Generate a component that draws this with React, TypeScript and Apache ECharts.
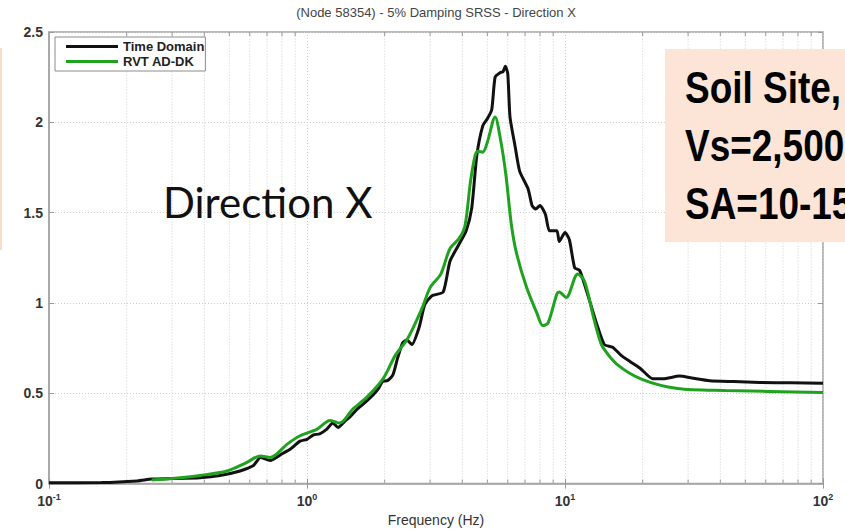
import React, { useEffect, useRef } from "react";
import * as echarts from "echarts";

// Time-domain response spectrum (frequency in Hz, spectral acceleration in g)
const timeFreq = [
  0.1, 0.16, 0.22, 0.25, 0.3, 0.385, 0.46, 0.55, 0.62, 0.66, 0.72, 0.8, 0.86, 0.94, 1.0,
  1.06, 1.12, 1.19, 1.26, 1.32, 1.4, 1.47, 1.56, 1.65, 1.8, 1.9, 1.96, 2.05, 2.15, 2.25,
  2.35, 2.44, 2.55, 2.72, 2.86, 3.05, 3.37, 3.58, 3.85, 4.14, 4.35, 4.55, 4.8, 5.0, 5.2,
  5.36, 5.6, 5.75, 5.87, 6.0, 6.12, 6.4, 6.67, 7.2, 7.45, 7.7, 8.0, 8.4, 8.7, 9.3, 9.5,
  10.0, 10.4, 10.9, 11.4, 12.1, 13.3, 14.2, 15.3, 16.5, 17.9, 19.5, 21.9, 24, 27.8, 31,
  36.4, 45, 57, 75, 100,
];
const timeSa = [
  0.005, 0.006, 0.015, 0.025, 0.028, 0.033, 0.045, 0.07, 0.1, 0.145, 0.128, 0.165, 0.19,
  0.235, 0.245, 0.27, 0.275, 0.3, 0.335, 0.31, 0.345, 0.37, 0.41, 0.44, 0.49, 0.53, 0.565,
  0.57, 0.6, 0.7, 0.78, 0.795, 0.77, 0.865, 0.99, 1.04, 1.06, 1.23, 1.315, 1.4, 1.525,
  1.815, 1.98, 2.02, 2.07, 2.25, 2.275, 2.28, 2.31, 2.27, 2.03, 1.87, 1.73, 1.63, 1.54,
  1.52, 1.54, 1.49, 1.4, 1.4, 1.34, 1.39, 1.35, 1.195, 1.18, 1.07, 0.88, 0.77, 0.755, 0.71,
  0.675, 0.64, 0.58, 0.58, 0.595, 0.585, 0.57, 0.565, 0.56, 0.558, 0.555,
];

// RVT AD-DK response spectrum
const rvtFreq = [
  0.25, 0.3, 0.385, 0.49, 0.58, 0.66, 0.72, 0.84, 0.94, 1.09, 1.23, 1.34, 1.5, 1.71, 1.97,
  2.2, 2.45, 2.8, 3.0, 3.3, 3.58, 3.9, 4.1, 4.3, 4.48, 4.6, 4.8, 5.0, 5.36, 5.6, 5.9, 6.2,
  6.5, 7.1, 7.8, 8.2, 8.6, 9.3, 9.5, 10.1, 11.2, 11.9, 12.9, 13.6, 14.0, 15.9, 20, 27.3, 42,
  100,
];
const rvtSa = [
  0.02, 0.028, 0.045, 0.07, 0.115, 0.153, 0.145, 0.22, 0.265, 0.3, 0.35, 0.335, 0.41, 0.48,
  0.58, 0.71, 0.8, 0.975, 1.085, 1.16, 1.3, 1.36, 1.43, 1.67, 1.815, 1.84, 1.835, 1.89,
  2.03, 1.92, 1.71, 1.43, 1.27, 1.085, 0.94, 0.875, 0.89, 1.05, 1.06, 1.03, 1.16, 1.12,
  0.92, 0.8, 0.755, 0.66, 0.575, 0.526, 0.515, 0.505,
];

// Log-decade minor grid positions
const minorFreqs = [
  0.2, 0.3, 0.4, 0.5, 0.6, 0.7, 0.8, 0.9,
  2, 3, 4, 5, 6, 7, 8, 9,
  20, 30, 40, 50, 60, 70, 80, 90,
];
const yTicks = [0, 0.5, 1, 1.5, 2, 2.5];
const freqRange = [0.1, 100];

const seriesNames = ["Time Domain", "RVT AD-DK"];
const titleText = "(Node 58354) - 5% Damping SRSS - Direction X";
const xAxisTitle = "Frequency (Hz)";
const directionLabel = "Direction X";
const siteLines = ["Soil Site,", "Vs=2,500", "SA=10-15"];

const AXIS_GRAY = "#a3a3a3";
const GRID_GRAY = "#cdcdcd";
const LABEL_FONT = "Liberation Sans, Arial, sans-serif";

const pairs = (xs: number[], ys: number[]) => xs.map((x, i) => [x, ys[i]]);

export default function App() {
  const ref = useRef<HTMLDivElement>(null);

  useEffect(() => {
    if (!ref.current) return;
    const chart = echarts.init(ref.current, undefined, { renderer: "svg" });
    const yMin = yTicks[0];
    const yMax = yTicks[yTicks.length - 1];

    const option: any = {
      animation: false,
      backgroundColor: "#ffffff",
      grid: {
        left: 49,
        right: 22,
        top: 32,
        bottom: 44,
        show: true,
        borderColor: AXIS_GRAY,
        borderWidth: 1.5,
        backgroundColor: "#ffffff",
      },
      legend: {
        data: seriesNames,
        orient: "vertical",
        left: 55,
        top: 37,
        backgroundColor: "#ffffff",
        borderColor: "#8c8c8c",
        borderWidth: 1,
        borderRadius: 0,
        padding: [3, 1, 3, 11],
        itemWidth: 52,
        itemHeight: 3,
        itemGap: 2,
        icon: "rect",
        textStyle: {
          fontFamily: LABEL_FONT,
          fontWeight: "bold",
          fontSize: 13,
          color: "#222",
        },
      },
      xAxis: [
        {
          type: "log",
          logBase: 10,
          min: freqRange[0],
          max: freqRange[1],
          name: xAxisTitle,
          nameLocation: "middle",
          nameGap: 27,
          nameTextStyle: { fontFamily: LABEL_FONT, fontSize: 14, color: "#333" },
          axisLine: { show: true, lineStyle: { color: AXIS_GRAY, width: 1.5 } },
          axisTick: { show: true, inside: true, length: 5, lineStyle: { color: "#999" } },
          splitLine: { show: true, lineStyle: { color: GRID_GRAY, type: [1, 2] } },
          axisLabel: {
            margin: 9,
            formatter: (v: number) => `{b|10}{e|${Math.round(Math.log10(v))}}`,
            rich: {
              b: { fontFamily: LABEL_FONT, fontSize: 14, fontWeight: "bold", color: "#333" },
              e: {
                fontFamily: LABEL_FONT,
                fontSize: 9,
                fontWeight: "bold",
                color: "#333",
                padding: [0, 0, 8, 0],
              },
            },
          },
        },
        {
          type: "log",
          logBase: 10,
          position: "top",
          min: freqRange[0],
          max: freqRange[1],
          axisLine: { show: false },
          axisTick: { show: true, inside: true, length: 5, lineStyle: { color: "#999" } },
          axisLabel: { show: false },
          splitLine: { show: false },
        },
      ],
      yAxis: [
        {
          type: "value",
          min: yMin,
          max: yMax,
          interval: 0.5,
          axisLine: { show: true, lineStyle: { color: AXIS_GRAY, width: 1.5 } },
          axisTick: { show: true, inside: true, length: 5, lineStyle: { color: "#999" } },
          splitLine: { show: true, lineStyle: { color: GRID_GRAY, type: [1, 2] } },
          axisLabel: {
            margin: 6,
            fontFamily: LABEL_FONT,
            fontSize: 14,
            fontWeight: "bold",
            color: "#333",
            formatter: (v: number) => String(v),
          },
        },
        {
          type: "value",
          position: "right",
          min: yMin,
          max: yMax,
          interval: 0.5,
          axisLine: { show: false },
          axisTick: { show: true, inside: true, length: 5, lineStyle: { color: "#999" } },
          axisLabel: { show: false },
          splitLine: { show: false },
        },
      ],
      series: [
        {
          // minor log grid with inward ticks on bottom and top edges
          type: "custom",
          name: "minor-grid",
          silent: true,
          z: 1,
          xAxisIndex: 0,
          yAxisIndex: 0,
          data: minorFreqs.map((f) => [f, yMin]),
          encode: { x: 0, y: 1 },
          renderItem: (_params: any, api: any) => {
            const f = api.value(0);
            const b = api.coord([f, yMin]);
            const t = api.coord([f, yMax]);
            return {
              type: "group",
              children: [
                {
                  type: "line",
                  shape: { x1: b[0], y1: b[1], x2: t[0], y2: t[1] },
                  style: { stroke: GRID_GRAY, lineWidth: 1, lineDash: [1, 2] },
                },
                {
                  type: "line",
                  shape: { x1: b[0], y1: b[1], x2: b[0], y2: b[1] - 4 },
                  style: { stroke: "#999", lineWidth: 1 },
                },
                {
                  type: "line",
                  shape: { x1: t[0], y1: t[1], x2: t[0], y2: t[1] + 4 },
                  style: { stroke: "#999", lineWidth: 1 },
                },
              ],
            };
          },
        },
        {
          type: "line",
          name: seriesNames[0],
          data: pairs(timeFreq, timeSa),
          showSymbol: false,
          symbol: "none",
          smooth: 0.2,
          z: 3,
          lineStyle: { color: "#111111", width: 3 },
          itemStyle: { color: "#111111" },
        },
        {
          type: "line",
          name: seriesNames[1],
          data: pairs(rvtFreq, rvtSa),
          showSymbol: false,
          symbol: "none",
          smooth: 0.3,
          z: 4,
          lineStyle: { color: "#1fa31f", width: 3 },
          itemStyle: { color: "#1fa31f" },
        },
      ],
      graphic: [
        {
          type: "text",
          x: 436,
          y: 12,
          style: {
            text: titleText,
            fontFamily: LABEL_FONT,
            fontSize: 13,
            fill: "#444",
            align: "center",
            verticalAlign: "middle",
          },
        },
        {
          type: "line",
          shape: { x1: 1, y1: 48, x2: 1, y2: 250 },
          style: { stroke: "#f5d2ba", lineWidth: 1.5 },
        },
        {
          type: "text",
          x: 163,
          y: 202,
          z: 10,
          style: {
            text: directionLabel,
            fontFamily: "Lato, Open Sans, sans-serif",
            fontSize: 42,
            fill: "#111",
            align: "left",
            verticalAlign: "middle",
          },
        },
        {
          type: "rect",
          z: 10,
          shape: { x: 665, y: 49, width: 200, height: 193 },
          style: { fill: "#fce5d6" },
        },
        {
          type: "group",
          x: 685,
          y: 0,
          scaleX: 0.84,
          z: 11,
          children: siteLines.map((line, i) => ({
            type: "text",
            x: 0,
            y: 88 + i * 58,
            z: 11,
            style: {
              text: line,
              fontFamily: LABEL_FONT,
              fontWeight: "bold",
              fontSize: 44,
              fill: "#000",
              align: "left",
              verticalAlign: "middle",
            },
          })),
        },
      ],
    };

    chart.setOption(option);
    return () => chart.dispose();
  }, []);

  return (
    <div
      ref={ref}
      style={{ position: "fixed", left: 0, top: 0, width: 845, height: 532, background: "#fff" }}
    />
  );
}
